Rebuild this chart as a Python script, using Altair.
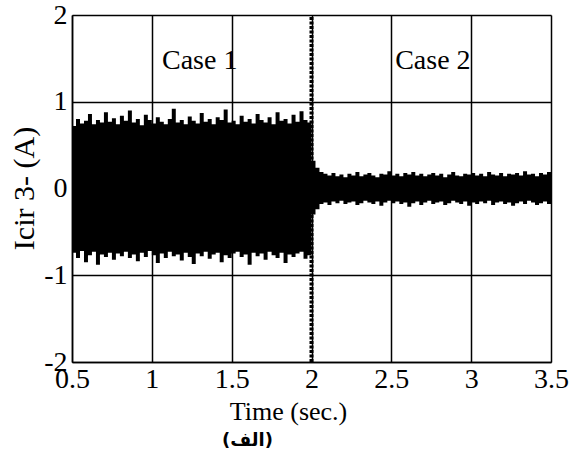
import altair as alt
import numpy as np
import pandas as pd

# Envelope of the noisy circulating current
u1 = [0.72,0.80,0.75,0.78,0.86,0.74,0.79,0.76,0.88,0.77,
      0.81,0.74,0.84,0.78,0.90,0.76,0.80,0.73,0.85,0.79,
      0.75,0.82,0.77,0.74,0.80,0.92,0.76,0.79,0.74,0.83,
      0.78,0.75,0.87,0.77,0.80,0.74,0.82,0.79,0.91,0.76,
      0.78,0.74,0.84,0.77,0.80,0.75,0.86,0.79,0.76,0.82,
      0.74,0.88,0.78,0.80,0.75,0.85,0.77,0.89,0.79,0.76]
l1 = [-0.74,-0.80,-0.72,-0.85,-0.77,-0.73,-0.88,-0.76,-0.79,-0.74,
      -0.82,-0.75,-0.78,-0.73,-0.80,-0.76,-0.84,-0.74,-0.79,-0.72,
      -0.77,-0.86,-0.75,-0.80,-0.73,-0.78,-0.76,-0.83,-0.74,-0.79,
      -0.87,-0.75,-0.78,-0.73,-0.81,-0.76,-0.74,-0.85,-0.77,-0.80,
      -0.75,-0.73,-0.79,-0.76,-0.88,-0.74,-0.78,-0.75,-0.82,-0.73,
      -0.77,-0.80,-0.74,-0.86,-0.76,-0.79,-0.75,-0.73,-0.81,-0.77]
u2 = [0.32,0.24,0.19,0.17,0.15,0.18,0.14,0.16,0.13,0.17,
      0.15,0.19,0.14,0.16,0.18,0.15,0.13,0.17,0.16,0.20,
      0.15,0.17,0.14,0.18,0.16,0.19,0.15,0.17,0.14,0.16,
      0.18,0.15,0.17,0.13,0.16,0.19,0.15,0.14,0.17,0.16,
      0.18,0.15,0.17,0.14,0.19,0.16,0.15,0.18,0.14,0.17,
      0.16,0.18,0.15,0.20,0.16,0.17,0.14,0.18,0.16,0.19,0.17]
l2 = [-0.30,-0.24,-0.18,-0.16,-0.19,-0.15,-0.17,-0.14,-0.18,-0.16,
      -0.15,-0.19,-0.17,-0.14,-0.16,-0.18,-0.15,-0.20,-0.16,-0.14,
      -0.17,-0.15,-0.18,-0.16,-0.21,-0.17,-0.15,-0.19,-0.16,-0.14,
      -0.18,-0.16,-0.15,-0.19,-0.17,-0.14,-0.16,-0.18,-0.15,-0.20,
      -0.16,-0.18,-0.15,-0.17,-0.14,-0.19,-0.16,-0.15,-0.18,-0.16,
      -0.20,-0.17,-0.15,-0.18,-0.14,-0.16,-0.19,-0.17,-0.15,-0.18,-0.16]

t1 = np.linspace(0.5, 2.0, 61)[:-1]
t2 = np.linspace(2.0, 3.5, 61)

x_ticks = [0.5, 1, 1.5, 2, 2.5, 3, 3.5]
y_ticks = [-2, -1, 0, 1, 2]

case_labels = ["Case 1", "Case 2"]
case_x = [1.30, 2.76]
case_y = [1.47, 1.47]

spike_t = [2.0]
spike_lo = [-2.0]
spike_hi = [2.0]

band = pd.DataFrame({
    "t": np.concatenate([t1, t2]),
    "upper": u1 + u2,
    "lower": l1 + l2,
})
cases = pd.DataFrame({"label": case_labels, "x": case_x, "y": case_y})
spike = pd.DataFrame({"t": spike_t, "lo": spike_lo, "hi": spike_hi})

FONT = "Liberation Serif"

xscale = alt.Scale(domain=[0.5, 3.5], nice=False, zero=False)
yscale = alt.Scale(domain=[-2, 2], nice=False, zero=False)

xaxis = alt.Axis(values=x_ticks, labelExpr="'' + datum.value", title="Time (sec.)",
                 grid=True, gridColor="black", gridWidth=1.5, gridOpacity=1,
                 domainColor="black", domainWidth=1.5, ticks=False,
                 labelFlush=False, labelOverlap=False,
                 labelFont=FONT, labelFontSize=28, labelColor="black", labelPadding=3,
                 labelBaseline="top",
                 titleFont=FONT, titleFontSize=26, titleFontWeight="normal", titleColor="black",
                 titleX=216, titleY=49, titleBaseline="middle")
yaxis = alt.Axis(values=y_ticks, labelExpr="'' + datum.value", title="Icir 3- (A)",
                 grid=True, gridColor="black", gridWidth=1.5, gridOpacity=1,
                 domainColor="black", domainWidth=1.5, ticks=False,
                 labelFlush=False, labelOverlap=False,
                 labelFont=FONT, labelFontSize=28, labelColor="black", labelPadding=5,
                 titleFont=FONT, titleFontSize=30, titleFontWeight="normal", titleColor="black",
                 titleX=-48, titleY=173, titleBaseline="middle", titleAngle=-90)

area = alt.Chart(band).mark_area(color="black", interpolate="step-after", clip=True).encode(
    x=alt.X("t:Q", scale=xscale, axis=xaxis),
    y=alt.Y("upper:Q", scale=yscale, axis=yaxis),
    y2="lower:Q",
)

rule = alt.Chart(spike).mark_rule(color="black", strokeWidth=4, strokeDash=[3, 1.5]).encode(
    x="t:Q", y="lo:Q", y2="hi:Q"
)

texts = alt.Chart(cases).mark_text(font=FONT, fontSize=28, color="black",
                                   align="center", baseline="middle").encode(
    x="x:Q", y="y:Q", text="label:N"
)

chart = alt.layer(area, rule, texts).properties(
    width=479, height=347,
    padding={"left": 72, "top": 15, "right": 20, "bottom": 97},
    autosize=alt.AutoSizeParams(type="none"),
    title=alt.TitleParams("(الف)", orient="bottom", anchor="middle", dx=-64, offset=8,
                          font="DejaVu Sans", fontSize=18, fontWeight="bold", color="black"),
).configure_view(stroke="black", strokeWidth=1.5).configure(background="white")

chart.save("out.html", embed_options={"renderer": "svg", "actions": False})
